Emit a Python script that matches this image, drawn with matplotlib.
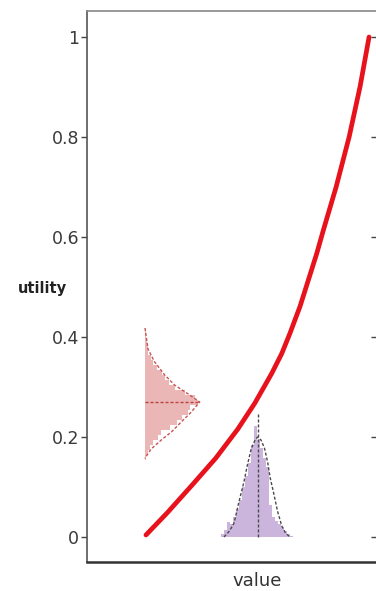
import numpy as np
import matplotlib
matplotlib.use("Agg")
import matplotlib.pyplot as plt

plt.rcParams['font.family'] = ['DejaVu Sans']

# utility curve (value -> utility)
curve_value = [0.204, 0.277, 0.367, 0.446, 0.522, 0.581, 0.639, 0.674, 0.702,
               0.737, 0.766, 0.795, 0.818, 0.862, 0.907, 0.945, 0.976]
curve_utility = [0.004, 0.048, 0.106, 0.158, 0.216, 0.268, 0.327, 0.367, 0.407,
                 0.461, 0.514, 0.567, 0.614, 0.700, 0.800, 0.901, 1.0]

# red histogram of utilities (horizontal, bins along the utility axis)
red_base = 0.2
red_bin_start = 0.154
red_bin_size = 0.01
red_counts = [0.0035, 0.010, 0.017, 0.030, 0.045, 0.055, 0.087, 0.11, 0.13,
              0.15, 0.156, 0.183, 0.173, 0.14, 0.105, 0.085, 0.07, 0.058,
              0.042, 0.03, 0.022, 0.012, 0.010, 0.007, 0.0035, 0.0035]
red_fit_x = [0.2007, 0.211, 0.234, 0.269, 0.303, 0.345, 0.39, 0.361, 0.326,
             0.292, 0.257, 0.222, 0.2]
red_fit_y = [0.418, 0.376, 0.35, 0.324, 0.304, 0.288, 0.27, 0.25, 0.23,
             0.21, 0.194, 0.176, 0.157]
red_mean = 0.27
red_peak = 0.39

# purple histogram of values (vertical, bins along the value axis)
pur_bin_start = 0.4625
pur_bin_size = 0.0104
pur_counts = [0.006, 0.014, 0.03, 0.026, 0.04, 0.056, 0.075, 0.1, 0.122, 0.148,
              0.185, 0.222, 0.195, 0.178, 0.158, 0.14, 0.065, 0.04, 0.032, 0.026,
              0.02, 0.013, 0.007, 0.003]
pur_fit_x = [0.474, 0.493, 0.509, 0.524, 0.543, 0.555, 0.568, 0.580, 0.590,
             0.602, 0.614, 0.625, 0.634, 0.645, 0.660, 0.674, 0.687, 0.702]
pur_fit_y = [0.0, 0.012, 0.028, 0.066, 0.11, 0.144, 0.176, 0.192, 0.2,
             0.194, 0.178, 0.15, 0.118, 0.09, 0.05, 0.022, 0.008, 0.0]
pur_mean = 0.592
pur_top = 0.25

yticks = [0, 0.2, 0.4, 0.6, 0.8, 1]
ytick_labels = ['0', '0.2', '0.4', '0.6', '0.8', '1']

fig = plt.figure(figsize=(3.76, 5.91), dpi=100)
ax = fig.add_axes([87 / 376, 29 / 591, 290 / 376, 551 / 591])

# red histogram
red_centers = [red_bin_start + red_bin_size * (i + 0.5) for i in range(len(red_counts))]
ax.barh(red_centers, red_counts, height=red_bin_size, left=red_base,
        color='#ebb6b6', edgecolor='none', zorder=1)
ax.plot(red_fit_x, red_fit_y, color='#c65454', lw=1.0, ls=(0, (2.2, 1.4)), zorder=2)
ax.plot([red_base, red_peak], [red_mean, red_mean], color='#b84444', lw=1.0,
        ls=(0, (2.2, 1.4)), zorder=2)

# purple histogram
pur_centers = [pur_bin_start + pur_bin_size * (i + 0.5) for i in range(len(pur_counts))]
ax.bar(pur_centers, pur_counts, width=pur_bin_size, color='#cbb5dc',
       edgecolor='none', zorder=1)
ax.plot(pur_fit_x, pur_fit_y, color='#4a4a4a', lw=1.0, ls=(0, (2.2, 1.4)), zorder=2)
ax.plot([pur_mean, pur_mean], [0, pur_top], color='#4a4a4a', lw=1.0,
        ls=(0, (2.2, 1.4)), zorder=2)

# utility curve
ax.plot(curve_value, curve_utility, color='#e8121c', lw=3.4,
        solid_capstyle='round', solid_joinstyle='round', zorder=3)

ax.set_xlim(0, 290 / 289)
ax.set_ylim(-0.05, 1.052)
ax.set_xticks([])
ax.set_yticks(yticks)
ax.set_yticklabels(ytick_labels)
ax.tick_params(axis='y', direction='out', length=4, width=1, color='#444',
               labelsize=12.5, labelcolor='#3a3a3a', pad=1.5)

# inward ticks on the right side
ax2 = ax.twinx()
ax2.set_ylim(ax.get_ylim())
ax2.set_yticks(yticks)
ax2.set_yticklabels([])
ax2.tick_params(axis='y', direction='in', length=4, width=1, color='#444')
for s in ax2.spines.values():
    s.set_visible(False)

ax.spines['left'].set_color('#555')
ax.spines['left'].set_linewidth(1.2)
ax.spines['top'].set_color('#888')
ax.spines['top'].set_linewidth(1.2)
ax.spines['bottom'].set_color('#333')
ax.spines['bottom'].set_linewidth(1.8)
ax.spines['right'].set_visible(False)

fig.text(42 / 376, 1 - 288 / 591, 'utility', ha='center', va='center',
         fontsize=10.5, fontweight='bold', color='#222')
fig.text(257 / 376, 1 - 581 / 591, 'value', ha='center', va='center',
         fontsize=13, color='#333')

fig.savefig('out.png', dpi=100)
